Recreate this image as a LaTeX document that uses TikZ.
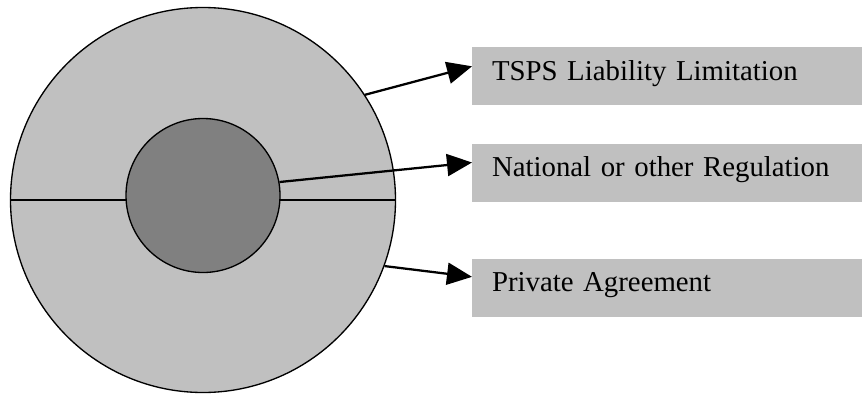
\documentclass[tikz,border=0pt]{standalone}
\usepackage{fontspec}
\setmainfont{Liberation Serif}
\usepackage{tikz}
\usetikzlibrary{arrows.meta, positioning}

\definecolor{ringgray}{RGB}{192,192,192}
\definecolor{coregray}{RGB}{128,128,128}

\begin{document}
\begin{tikzpicture}[
        x=0.75pt, y=-0.75pt,
        every node/.style={font=\fontsize{21.6}{26}\selectfont},
        disc/.style={circle, draw, line width=1pt, inner sep=0pt},
        label box/.style={fill=ringgray, anchor=west, minimum width=292.5pt, minimum height=43.5pt,
            text width=262.9pt, inner xsep=14.8pt, align=left, text height=0.82em, text depth=0.2em},
        arr/.style={-{Triangle[length=18.75pt, width=16.5pt]}, line width=1.7pt}
    ]
        \useasboundingbox (0,0) rectangle (862,393);

        \node[disc, fill=ringgray, minimum size=288.75pt] (outer) at (203,200) {};
        \draw[line width=1pt] (outer.west) -- (outer.east);
        \node[disc, fill=coregray, minimum size=115.5pt] (core) at (203,195.5) {};

        \node[label box] (tsps) at (472,76.3) {TSPS Liability Limitation};
        \node[label box] (regulation) at (472,172.5) {National or other Regulation};
        \node[label box] (agreement) at (472,287.5) {Private Agreement};

        \draw[arr] (outer.33.8) -- ([yshift=7.5pt]tsps.west);
        \draw[arr] (core.10.9) -- ([yshift=7.5pt]regulation.west);
        \draw[arr] (outer.-20.3) -- ([yshift=8pt]agreement.west);
    \end{tikzpicture}
\end{document}
